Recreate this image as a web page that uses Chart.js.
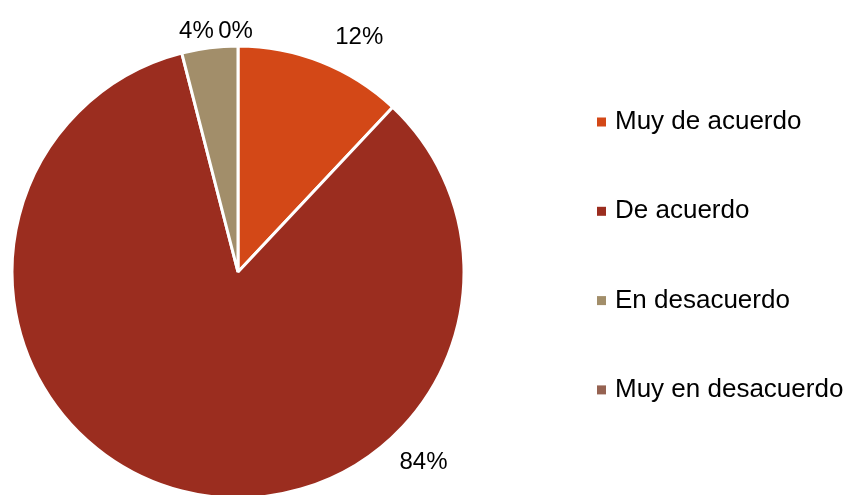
<!DOCTYPE html>
<html><head><meta charset="utf-8">
<script src="https://cdn.jsdelivr.net/npm/chart.js@4"></script>
<style>html,body{margin:0;padding:0;background:#fff}#wrap{width:851px;height:495px;position:relative}</style>
</head><body><div id="wrap"><canvas id="c" width="851" height="495"></canvas></div>
<script>
const categories = ["Muy de acuerdo", "De acuerdo", "En desacuerdo", "Muy en desacuerdo"];
const values = [12, 84, 4, 0];
const valueLabels = ["12%", "84%", "4%", "0%"];
const colors = ["#D34817", "#9B2D1F", "#A28E6A", "#956251"];

// label placement (style): angle from top clockwise (deg) and radius factor
const labelPlace = [{a:27.3, r:1.17}, {a:135.7, r:1.175}, {a:-9.8, r:1.08}, {a:-0.6, r:1.065}];
const FONT = '"Liberation Sans", Arial, sans-serif';

const labelPlugin = {
  id: 'labels',
  afterDatasetsDraw(chart) {
    const ctx = chart.ctx;
    const meta = chart.getDatasetMeta(0);
    ctx.save();
    ctx.font = '24px ' + FONT;
    ctx.fillStyle = '#000';
    ctx.textAlign = 'center';
    ctx.textBaseline = 'middle';
    meta.data.forEach((arc, i) => {
      const p = labelPlace[i];
      const ang = (p.a - 90) * Math.PI / 180;
      const R = arc.outerRadius * p.r;
      ctx.fillText(valueLabels[i], arc.x + R * Math.cos(ang), arc.y + R * Math.sin(ang));
    });
    ctx.restore();
  }
};

const legendPlugin = {
  id: 'customLegend',
  afterDraw(chart) {
    const ctx = chart.ctx;
    ctx.save();
    ctx.font = '26px ' + FONT;
    ctx.textBaseline = 'middle';
    ctx.textAlign = 'left';
    const x0 = 597, y0 = 122, step = 89.3, box = 9;
    chart.data.labels.forEach((lab, i) => {
      const y = y0 + i * step;
      ctx.fillStyle = chart.data.datasets[0].backgroundColor[i];
      ctx.fillRect(x0, y - box / 2, box, box);
      ctx.fillStyle = '#000';
      ctx.fillText(lab, x0 + 18, y);
    });
    ctx.restore();
  }
};

new Chart(document.getElementById('c'), {
  type: 'pie',
  data: {
    labels: categories,
    datasets: [{
      data: values,
      backgroundColor: colors,
      borderColor: '#ffffff',
      borderWidth: 3,
      radius: 226
    }]
  },
  options: {
    responsive: false,
    animation: false,
    layout: { padding: { left: 12, right: 387, top: 49, bottom: 0 } },
    plugins: { legend: { display: false }, tooltip: { enabled: false } }
  },
  plugins: [labelPlugin, legendPlugin]
});
</script></body></html>
